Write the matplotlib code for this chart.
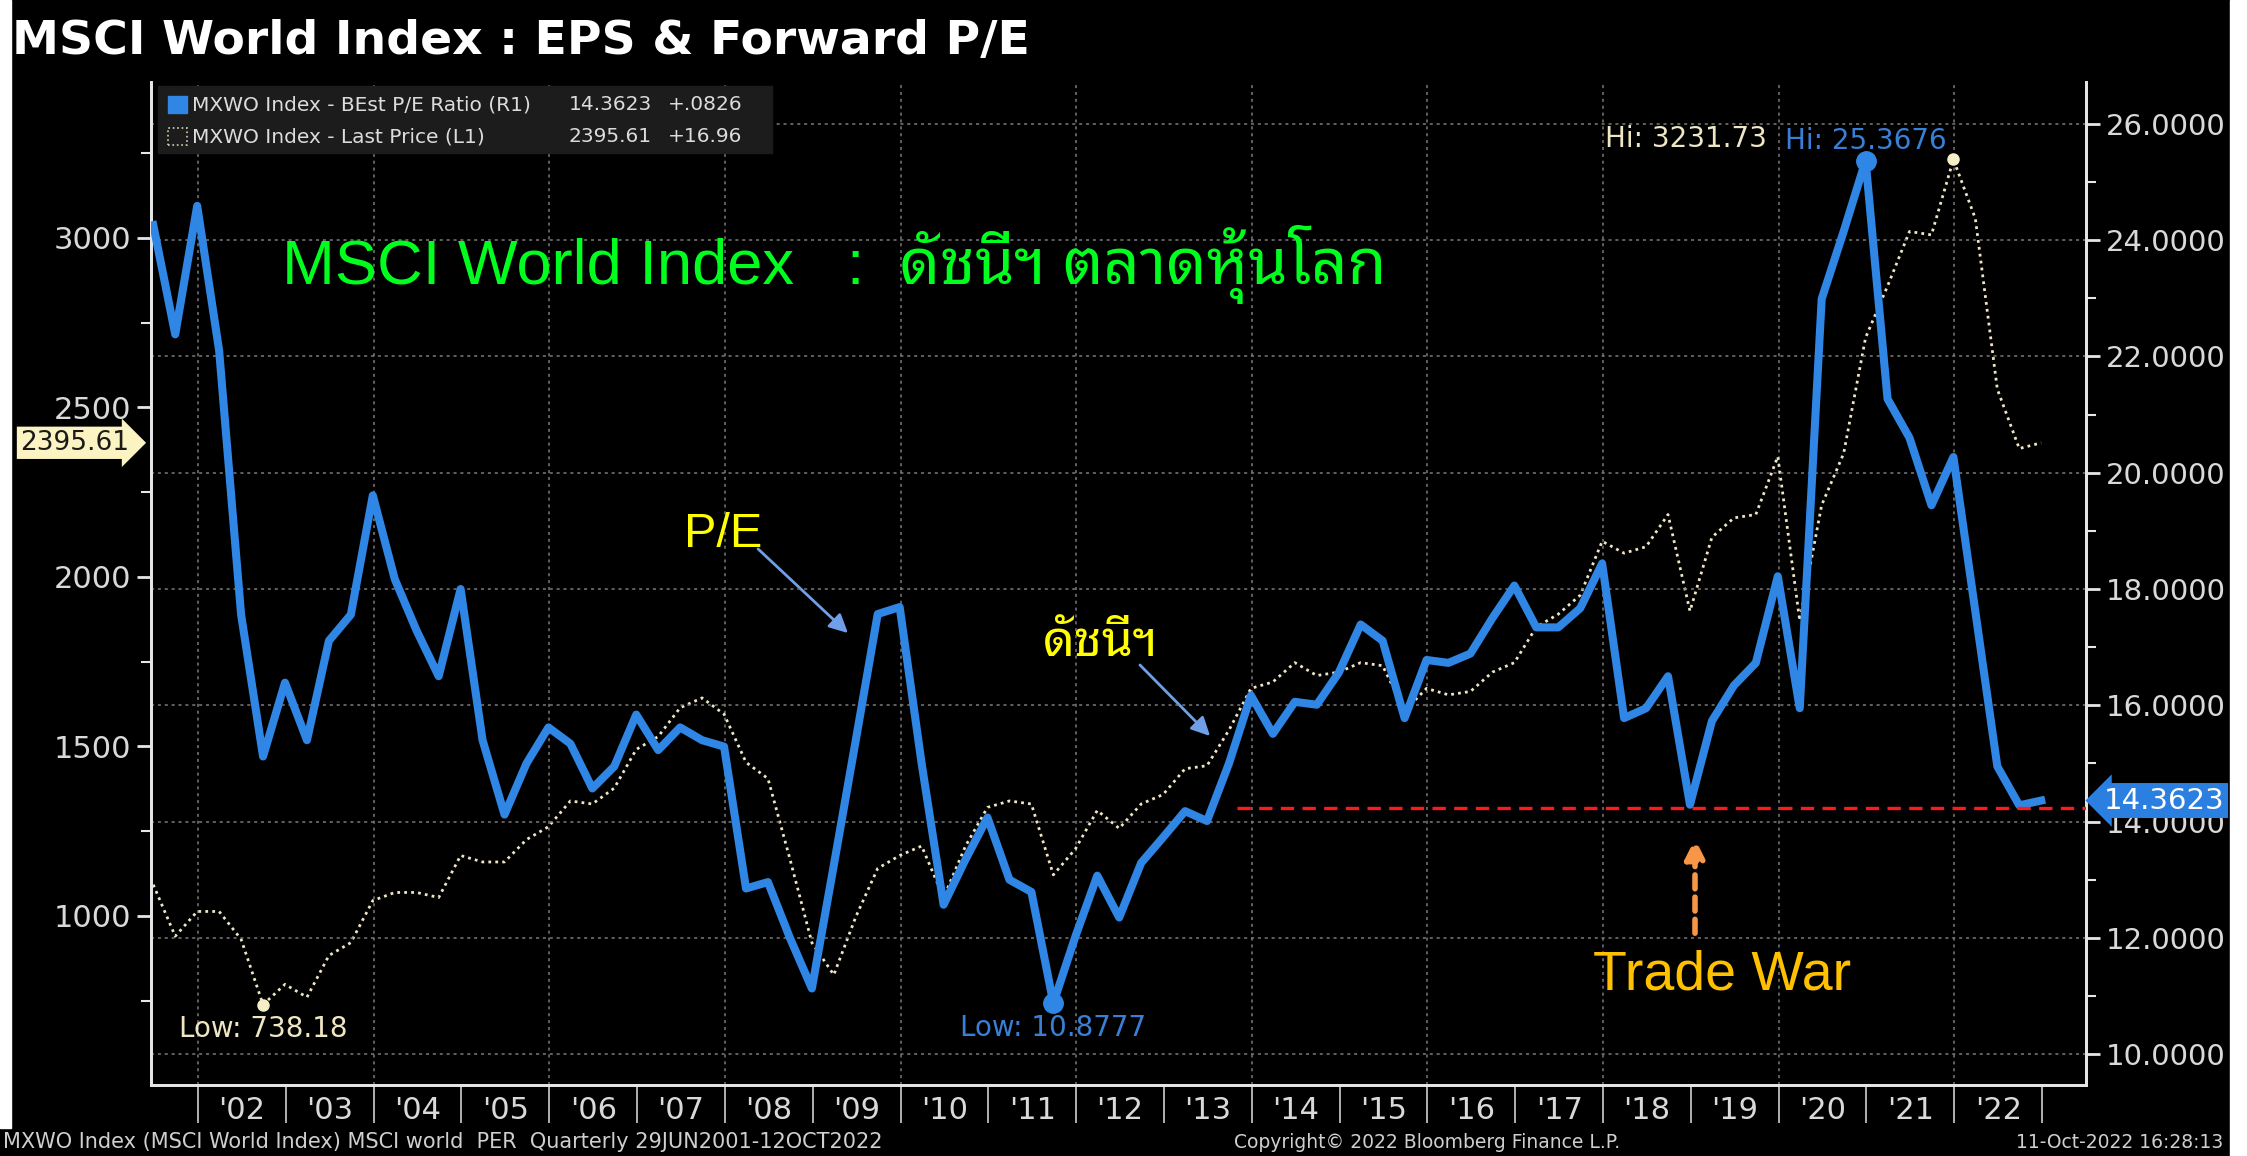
import numpy as np
import pandas as pd
import matplotlib
matplotlib.use("Agg")
import matplotlib.pyplot as plt
from matplotlib import font_manager
from matplotlib.ft2font import FT2Font
from matplotlib.patches import Rectangle

# MXWO quarterly, 29JUN2001 - 12OCT2022 (last point is the partial Q4 2022)
quarters = pd.period_range("2001Q2", "2022Q4", freq="Q")

# BEst P/E ratio (right axis)
pe_ratio = [24.26, 22.38, 24.59,
            22.10, 17.56, 15.12, 16.39,
            15.40, 17.11, 17.56, 19.61,
            18.17, 17.28, 16.50, 18.00,
            15.40, 14.12, 15.00, 15.62,
            15.34, 14.57, 14.95, 15.84,
            15.23, 15.62, 15.40, 15.29,
            12.85, 12.96, 12.00, 11.13,
            13.25, 15.40, 17.57, 17.69,
            15.00, 12.57, 13.35, 14.07,
            13.00, 12.79, 10.8777, 12.02,
            13.07, 12.35, 13.29, 13.73,
            14.18, 14.01, 15.00, 16.17,
            15.51, 16.06, 16.01, 16.56,
            17.39, 17.11, 15.78, 16.78,
            16.73, 16.89, 17.50, 18.06,
            17.34, 17.34, 17.67, 18.44,
            15.78, 15.95, 16.50, 14.29,
            15.73, 16.34, 16.73, 18.22,
            15.95, 22.99, 24.15, 25.3676,
            21.27, 20.60, 19.44, 20.27,
            17.61, 14.95, 14.2797, 14.3623]

# Last price (left axis)
last_price = [1092, 940, 1013,
              1013, 931, 738.18, 798,
              760, 883, 921, 1045,
              1069, 1069, 1054, 1178,
              1159, 1159, 1225, 1263,
              1339, 1330, 1377, 1491,
              1529, 1614, 1643, 1595,
              1453, 1405, 1168, 921,
              826, 997, 1140, 1178,
              1206, 1054, 1206, 1320,
              1339, 1330, 1121, 1197,
              1311, 1258, 1330, 1358,
              1434, 1443, 1548, 1671,
              1690, 1747, 1709, 1719,
              1747, 1738, 1605, 1671,
              1652, 1662, 1719, 1747,
              1852, 1890, 1946, 2105,
              2070, 2089, 2184, 1899,
              2117, 2174, 2184, 2355,
              1871, 2212, 2364, 2706,
              2858, 3019, 3009, 3231.73,
              3057, 2554, 2378.65, 2395.61]

years = list(range(2002, 2023))
year_labels = ["'02", "'03", "'04", "'05", "'06", "'07", "'08", "'09", "'10", "'11",
               "'12", "'13", "'14", "'15", "'16", "'17", "'18", "'19", "'20", "'21", "'22"]
pe_ticks = [10, 12, 14, 16, 18, 20, 22, 24, 26]
price_ticks = [1000, 1500, 2000, 2500, 3000]
trade_war_level = 14.23

x = np.array([p.year + p.quarter / 4 - 0.01 for p in quarters])
pe = np.array(pe_ratio)
px = np.array(last_price)

# ---- fonts ----
ttf = font_manager.fontManager.ttflist
names = {f.name for f in ttf}
narrow = 'Liberation Sans Narrow' if 'Liberation Sans Narrow' in names else 'DejaVu Sans'
thai_found = []
for f in ttf:
    try:
        if 0x0E14 in FT2Font(f.fname).get_charmap():
            thai_found.append(f.name)
    except Exception:
        pass
thai = 'DejaVu Sans'
for pref in ['Noto Sans Thai', 'Loma', 'Garuda', 'Waree', 'Sarabun', 'Laksaman']:
    hit = [n for n in thai_found if pref in n]
    if hit:
        thai = hit[0]
        break
else:
    if thai_found:
        thai = thai_found[0]

BLUE = '#2f86e4'
CREAM = '#efe6c4'
GREY = '#d9d9d9'

W, H = 2247, 1156
def fx(p): return p / W
def fy(p): return 1 - p / H

fig = plt.figure(figsize=(W / 100, H / 100), dpi=100, facecolor='black')
fig.patches.append(Rectangle((0, fy(1128)), fx(11), 1 - fy(1128),
                             transform=fig.transFigure, color='white', zorder=0))
fig.patches.append(Rectangle((fx(2230), 0), 1 - fx(2230), 1,
                             transform=fig.transFigure, color='white', zorder=0))

ax = fig.add_axes([fx(151), fy(1085), fx(2086) - fx(151), fy(82) - fy(1085)])
ax.set_facecolor('black')
ax2 = ax.twinx()

# price: dotted cream line
ax.plot(x, px, color=CREAM, lw=2.0, ls=(0, (1, 1.5)), zorder=3)
ax.set_xlim(2001.464, 2023.50)
ax.set_ylim(501, 3460)
for yr in years[::2]:
    ax.axvline(yr, color='#7a7a7a', lw=1.1, ls=(0, (2, 2.5)), zorder=1)

# P/E: thick blue line
ax2.set_axisbelow(True)
ax2.grid(axis='y', which='major', color='#7a7a7a', lw=1.1, ls=(0, (2, 2.5)))
ax2.plot(x, pe, color=BLUE, lw=5.8, zorder=4)
ax2.set_ylim(9.47, 26.72)

ax2.hlines(trade_war_level, 2013.83, 2023.5, colors='#ff1a1a', lw=2.4,
           linestyles=(0, (4, 2.5)), zorder=5)

# hi / low markers
i_hi, i_lo = int(np.argmax(pe)), int(np.argmin(pe))
j_hi, j_lo = int(np.argmax(px)), int(np.argmin(px))
ax2.plot(x[i_hi], pe[i_hi], 'o', ms=14, color=BLUE, zorder=6)
ax2.plot(x[i_lo], pe[i_lo], 'o', ms=14, color=BLUE, zorder=6)
ax.plot(x[j_hi], px[j_hi], 'o', ms=8, color='#f5efc8', zorder=6)
ax.plot(x[j_lo], px[j_lo], 'o', ms=8, color='#f5efc8', zorder=6)

ax2.annotate(f'Hi: {pe[i_hi]:.4f}', (x[i_hi], pe[i_hi]), xytext=(0, 20),
             textcoords='offset pixels', ha='center', va='center',
             color='#3a7fd6', fontsize=20, zorder=7)
ax2.annotate(f'Low: {pe[i_lo]:.4f}', (x[i_lo], pe[i_lo]), xytext=(0, -25),
             textcoords='offset pixels', ha='center', va='center',
             color='#3a7fd6', fontsize=20, zorder=7)
ax.annotate(f'Low: {px[j_lo]:.2f}', (x[j_lo], px[j_lo]), xytext=(0, -24),
            textcoords='offset pixels', ha='center', va='center',
            color='#efe6c4', fontsize=20, zorder=7)
fig.text(fx(1605), fy(139), f'Hi: {px[j_hi]:.2f}', ha='left', va='center',
         color='#efe6c4', fontsize=20)

# axes styling
for a in (ax, ax2):
    a.spines['top'].set_visible(False)
    for s in ('left', 'right', 'bottom'):
        a.spines[s].set_color('#e6e6e6')
        a.spines[s].set_linewidth(2)

ax.set_yticks(price_ticks)
ax.set_yticks([750, 1250, 1750, 2250, 2750, 3250], minor=True)
ax.tick_params(axis='y', which='major', direction='out', length=10, width=2,
               color='#e6e6e6', labelcolor=GREY, labelsize=22, pad=4)
ax.tick_params(axis='y', which='minor', direction='out', length=7, width=1.5,
               color='#e6e6e6')

ax2.set_yticks(pe_ticks)
ax2.set_yticklabels([f'{v:.4f}' for v in pe_ticks])
ax2.set_yticks([11, 13, 15, 17, 19, 21, 23, 25], minor=True)
ax2.tick_params(axis='y', which='major', direction='out', length=10, width=2,
                color='#e6e6e6', labelcolor=GREY, labelsize=21, pad=4)
ax2.tick_params(axis='y', which='minor', direction='out', length=7, width=1.5,
                color='#e6e6e6')

ax.set_xticks([y + 0.5 for y in years])
ax.set_xticklabels(year_labels, fontfamily=narrow)
ax.set_xticks(years + [2023], minor=True)
ax.tick_params(axis='x', which='major', length=0, labelcolor=GREY,
               labelsize=22, pad=8)
ax.tick_params(axis='x', which='minor', direction='out', length=27, width=1.2,
               color='#cfcfcf')

# current value tags
ax2.annotate(f'{pe[-1]:.4f}', (1, pe[-1]), xycoords=('axes fraction', 'data'),
             xytext=(18, 0), textcoords='offset pixels', ha='left', va='center',
             color='white', fontsize=21, annotation_clip=False, zorder=8,
             bbox=dict(boxstyle='larrow,pad=0.12', fc='#2a7fe0', ec='none'))
ax.annotate(f'{px[-1]:.2f}', (0, px[-1]), xycoords=('axes fraction', 'data'),
            xytext=(-22, 0), textcoords='offset pixels', ha='right', va='center',
            color='#1a1a1a', fontsize=19, annotation_clip=False, zorder=8,
            bbox=dict(boxstyle='rarrow,pad=0.12', fc='#fbf3c2', ec='none'))

# legend block
fig.patches.append(Rectangle((fx(158), fy(153)), fx(772) - fx(158), fy(86) - fy(153),
                             transform=fig.transFigure, color='#1c1c1c', zorder=1))
fig.patches.append(Rectangle((fx(168), fy(113)), fx(19), fy(96) - fy(113),
                             transform=fig.transFigure, color=BLUE, zorder=2))
fig.patches.append(Rectangle((fx(168), fy(145)), fx(19), fy(128) - fy(145),
                             transform=fig.transFigure, fill=False, ec='#d8d0b0',
                             ls=':', lw=1.2, zorder=2))
leg_kw = dict(color='#dcdcdc', fontsize=14.5, fontfamily=narrow, va='center')
fig.text(fx(192), fy(105), 'MXWO Index - BEst P/E Ratio (R1)', ha='left', **leg_kw)
fig.text(fx(192), fy(137), 'MXWO Index - Last Price (L1)', ha='left', **leg_kw)
fig.text(fx(652), fy(105), f'{pe[-1]:.4f}', ha='right', **leg_kw)
fig.text(fx(652), fy(137), f'{px[-1]:.2f}', ha='right', **leg_kw)
fig.text(fx(668), fy(105), '+.0826', ha='left', **leg_kw)
fig.text(fx(668), fy(137), '+16.96', ha='left', **leg_kw)

# titles and notes
fig.text(fx(12), fy(42), 'MSCI World Index : EPS & Forward P/E', ha='left', va='center',
         color='white', fontsize=34, fontweight='bold')
fig.text(fx(282), fy(284), 'MSCI World Index   :  ดัชนีฯ ตลาดหุ้นโลก', ha='left',
         va='baseline', color='#00ff1e', fontsize=45.5,
         family=['Liberation Sans', thai, 'DejaVu Sans'])
fig.text(fx(684), fy(547), 'P/E', ha='left', va='baseline', color='#ffff00',
         fontsize=35, family=['Liberation Sans', 'DejaVu Sans'])
fig.text(fx(1043), fy(656), 'ดัชนีฯ', ha='left', va='baseline', color='#ffff00',
         fontsize=36, family=[thai, 'DejaVu Sans'])
fig.text(fx(1722), fy(990), 'Trade War', ha='center', va='baseline', color='#ffc000',
         fontsize=40, family=['Liberation Sans', 'DejaVu Sans'])

arrow_blue = dict(arrowstyle='-|>', color='#6f9fe6', lw=2, mutation_scale=28)
ax.annotate('', xy=(fx(850), fy(635)), xytext=(fx(756), fy(547)),
            xycoords='figure fraction', textcoords='figure fraction', arrowprops=arrow_blue)
ax.annotate('', xy=(fx(1212), fy(738)), xytext=(fx(1138), fy(663)),
            xycoords='figure fraction', textcoords='figure fraction', arrowprops=arrow_blue)
ax.annotate('', xy=(fx(1695), fy(836)), xytext=(fx(1695), fy(936)),
            xycoords='figure fraction', textcoords='figure fraction',
            arrowprops=dict(arrowstyle='-|>', color='#f79646', lw=4, ls=(0, (2.5, 1.5)),
                            mutation_scale=30))

cap_kw = dict(color='#cfcfcf', va='center')
fig.text(fx(3), fy(1142), 'MXWO Index (MSCI World Index) MSCI world  PER  Quarterly 29JUN2001-12OCT2022',
         ha='left', fontsize=15, **cap_kw)
fig.text(fx(1427), fy(1142), 'Copyright© 2022 Bloomberg Finance L.P.', ha='center',
         fontsize=13.5, **cap_kw)
fig.text(fx(2223), fy(1142), '11-Oct-2022 16:28:13', ha='right', fontsize=13.5, **cap_kw)

fig.savefig('out.png', dpi=100, facecolor=fig.get_facecolor())
